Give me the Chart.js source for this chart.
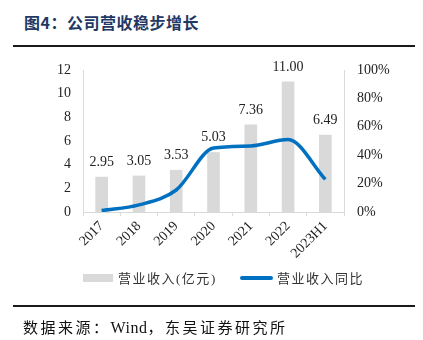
<!DOCTYPE html>
<html>
<head>
<meta charset="utf-8">
<script src="https://cdn.jsdelivr.net/npm/chart.js@4"></script>
<style>
  body { margin: 0; background: #fff; }
  #wrap { position: relative; width: 423px; height: 340px; overflow: hidden; }
  #chart { position: absolute; left: 0; top: 0; }
  .title { position: absolute; left: 24px; top: 10px; font: bold 16px "Noto Sans CJK SC", sans-serif; color: #1f3864; letter-spacing: 0.5px; }
  .rule { position: absolute; left: 13px; width: 402px; height: 2px; background: #1a1a1a; }
  .src { position: absolute; left: 23px; top: 316px; font: 15px "Noto Sans CJK SC", sans-serif; color: #111; letter-spacing: 2.5px; }
  .legend { position: absolute; top: 268px; font: 13px "Liberation Serif", "Noto Sans CJK SC", serif; color: #333; letter-spacing: 1.5px; }
  .swatch { position: absolute; }
</style>
</head>
<body>
<div id="wrap">
  <div class="title">图4：公司营收稳步增长</div>
  <div class="rule" style="top:45px"></div>
  <canvas id="chart" width="423" height="340"></canvas>
  <div class="swatch" style="left:83px;top:274px;width:30px;height:8px;background:#d9d9d9"></div>
  <div class="legend" style="left:118px"><span style="font-family:'Noto Sans CJK SC'">营业收入</span>(<span style="font-family:'Noto Sans CJK SC'">亿元</span>)</div>
  <div class="swatch" style="left:240px;top:276px;width:33px;height:4px;background:#0070c0;border-radius:2px"></div>
  <div class="legend" style="left:277px;font-family:'Noto Sans CJK SC'">营业收入同比</div>
  <div class="rule" style="top:305px"></div>
  <div class="src">数据来源：<span style="font-family:'Liberation Serif';font-size:16px;letter-spacing:0.5px">Wind</span>，东吴证券研究所</div>
</div>
<script>
const years = ['2017', '2018', '2019', '2020', '2021', '2022', '2023H1'];
const revenue = [2.95, 3.05, 3.53, 5.03, 7.36, 11.00, 6.49];
const growth = [1, 5, 15.5, 45, 46.5, 51, 23];

const serif = 'Liberation Serif';

// bar value labels
const barLabels = {
  id: 'barLabels',
  afterDatasetsDraw(chart) {
    const ctx = chart.ctx;
    const meta = chart.getDatasetMeta(0);
    ctx.save();
    ctx.font = '14px ' + serif;
    ctx.fillStyle = '#222';
    ctx.textAlign = 'center';
    ctx.textBaseline = 'middle';
    meta.data.forEach((bar, i) => {
      ctx.fillText(revenue[i].toFixed(2), bar.x, bar.y - 15);
    });
    ctx.restore();
  }
};

new Chart(document.getElementById('chart').getContext('2d'), {
  type: 'bar',
  data: {
    labels: years,
    datasets: [{
      label: '营业收入(亿元)',
      data: revenue,
      yAxisID: 'y',
      backgroundColor: '#d9d9d9',
      barThickness: 12,
      order: 1
    }, {
      type: 'line',
      label: '营业收入同比',
      data: growth,
      yAxisID: 'y1',
      borderColor: '#0070c0',
      borderWidth: 3.5,
      pointRadius: 0,
      cubicInterpolationMode: 'monotone',
      order: 0
    }]
  },
  options: {
    responsive: false,
    animation: false,
    layout: { padding: { top: 70, left: 0, right: 0, bottom: 0 } },
    plugins: {
      legend: { display: false },
      tooltip: { enabled: false }
    },
    scales: {
      x: {
        offset: true,
        grid: { offset: true, drawOnChartArea: false, color: '#d9d9d9', tickLength: 4 },
        border: { color: '#d9d9d9' },
        ticks: {
          autoSkip: false, minRotation: 45, maxRotation: 45,
          font: { family: serif, size: 14 }, color: '#222', padding: 2
        },
        afterFit: s => { s.height = 128; }
      },
      y: {
        position: 'left',
        min: 0, max: 12,
        grid: { display: false, drawTicks: false },
        border: { color: '#d9d9d9' },
        ticks: { stepSize: 2, font: { family: serif, size: 14 }, color: '#222', padding: 12 },
        afterFit: s => { s.width = 83; }
      },
      y1: {
        position: 'right',
        min: 0, max: 100,
        grid: { display: false, drawTicks: false },
        border: { color: '#d9d9d9' },
        ticks: { stepSize: 20, font: { family: serif, size: 14 }, color: '#222', padding: 13, callback: v => v + '%' },
        afterFit: s => { s.width = 79; }
      }
    }
  },
  plugins: [barLabels]
});
</script>
</body>
</html>
